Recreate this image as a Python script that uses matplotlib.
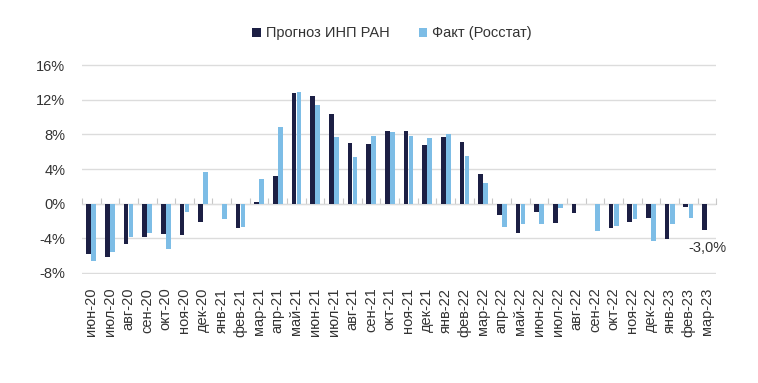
import matplotlib.pyplot as plt
import numpy as np

# Месяцы и значения (% г/г)
months = ['июн-20', 'июл-20', 'авг-20', 'сен-20', 'окт-20', 'ноя-20', 'дек-20',
          'янв-21', 'фев-21', 'мар-21', 'апр-21', 'май-21', 'июн-21', 'июл-21',
          'авг-21', 'сен-21', 'окт-21', 'ноя-21', 'дек-21', 'янв-22', 'фев-22',
          'мар-22', 'апр-22', 'май-22', 'июн-22', 'июл-22', 'авг-22', 'сен-22',
          'окт-22', 'ноя-22', 'дек-22', 'янв-23', 'фев-23', 'мар-23']

forecast = [-5.85, -6.15, -4.65, -3.8, -3.55, -3.6, -2.1,
            0.0, -2.8, 0.2, 3.2, 12.8, 12.45, 10.35,
            7.05, 6.9, 8.4, 8.4, 6.75, 7.7, 7.15,
            3.4, -1.25, -3.35, -0.9, -2.25, -1.05, 0.0,
            -2.75, -2.15, -1.7, -4.1, -0.35, -3.0]

fact = [-6.6, -5.6, -3.9, -3.4, -5.2, -1.0, 3.7,
        -1.8, -2.65, 2.85, 8.85, 12.9, 11.35, 7.7,
        5.4, 7.85, 8.25, 7.85, 7.55, 8.05, 5.55,
        2.35, -2.65, -2.4, -2.4, -0.45, 0.0, -3.1,
        -2.6, -1.75, -4.25, -2.35, -1.7, np.nan]

dark = '#1c1f44'
light = '#7dbde6'
text_col = '#333333'

plt.rcParams['font.family'] = ['Liberation Sans', 'DejaVu Sans']

fig = plt.figure(figsize=(7.58, 3.83), dpi=100)
ax = fig.add_axes([0.108, 0.285, 0.837, 0.547])

x = np.arange(len(months))
w = 0.25
ax.bar(x - 0.135, forecast, w, color=dark, label='Прогноз ИНП РАН', zorder=3)
ax.bar(x + 0.135, fact, w, color=light, label='Факт (Росстат)', zorder=3)

ax.set_xlim(-0.5, len(months) - 0.5)
ax.set_ylim(-8.1, 16.1)
ax.set_yticks(range(-8, 17, 4))
ax.set_yticklabels([f'{v}%' for v in range(-8, 17, 4)])
ax.yaxis.grid(True, color='#dcdcdc', linewidth=1)
ax.set_axisbelow(True)

ax.set_xticks(x)
ax.set_xticklabels(months, rotation=90)
ax.tick_params(axis='x', length=0, pad=10, labelsize=10.5, labelcolor=text_col)
ax.tick_params(axis='y', length=0, pad=12, labelsize=10.5, labelcolor=text_col)
for s in ax.spines.values():
    s.set_visible(False)

# Нулевая ось с засечками между категориями
zero_ax = ax.secondary_xaxis(8.1 / 24.2)
zero_ax.set_xticks(np.arange(-0.5, len(months), 1))
zero_ax.tick_params(axis='x', direction='in', length=4, color='#c8c8c8',
                    labelbottom=False, labeltop=False)
zero_ax.set_xticklabels([])
zero_ax.spines['bottom'].set_color('#c8c8c8')

# Подпись последнего значения
ax.annotate(f'{forecast[-1]:.1f}%'.replace('.', ','), (x[-1] - 0.135, forecast[-1]),
            xytext=(2, -8), textcoords='offset points', ha='center', va='top',
            fontsize=10.5, color=text_col)

fig.legend(loc='center', bbox_to_anchor=(0.517, 0.913), ncol=2, frameon=False,
           fontsize=10.5, handlelength=0.6, handleheight=0.6, columnspacing=2.0,
           handletextpad=0.3, labelcolor=text_col)

fig.savefig('out.png', dpi=100)
